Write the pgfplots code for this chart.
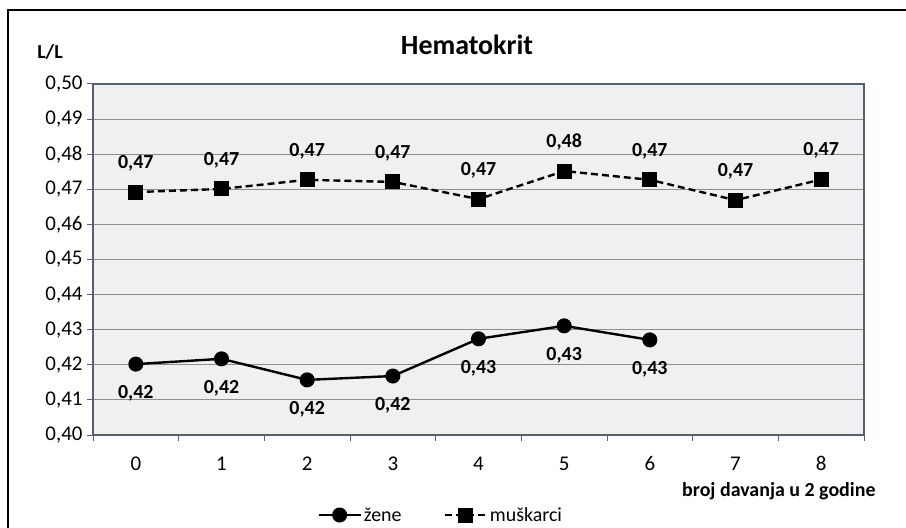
\documentclass[border=0pt]{standalone}
\usepackage{pgfplots}
\pgfplotsset{compat=1.18}
\usepackage{fontspec}
\setmainfont{Carlito}

\definecolor{axiscol}{HTML}{56606E}
\definecolor{gridcol}{HTML}{8E8E8E}
\definecolor{bgcol}{HTML}{F0F0F0}

\begin{document}
\begin{tikzpicture}
    \useasboundingbox (0bp,0bp) rectangle (906bp,528bp);
    % outer frame (right and bottom edges are cut off in the reference)
    \draw[line width=1.2bp] (8bp,0bp) -- (8bp,518bp) -- (906bp,518bp);

    \begin{axis}
        [
            at={(93bp,93bp)}, anchor=south west,
            scale only axis,
            width=771bp, height=351bp,
            xmin=-0.5, xmax=8.5,
            ymin=0.40, ymax=0.50,
            xtick={0,1,2,3,4,5,6,7,8},
            xticklabels={0,1,2,3,4,5,6,7,8},
            major x tick style={draw=none},
            minor xtick={-0.5,0.5,1.5,2.5,3.5,4.5,5.5,6.5,7.5,8.5},
            minor tick length=6bp,
            ytick={0.40,0.41,0.42,0.43,0.44,0.45,0.46,0.47,0.48,0.49,0.50},
            yticklabel={\pgfmathprintnumber[fixed,fixed zerofill,precision=2,use comma,assume math mode=true]{\tick}},
            major tick length=6bp,
            tick align=outside,
            tick style={axiscol, line width=1bp},
            xtick pos=bottom, ytick pos=left,
            ymajorgrids,
            grid style={gridcol, line width=0.9bp},
            axis line style={axiscol, line width=1.8bp},
            axis background/.style={fill=bgcol},
            tick label style={font=\fontsize{21}{24}\selectfont},
            yticklabel style={xshift=-1bp},
            xticklabel style={yshift=-12bp, text height=14bp, text depth=0bp},
            nodes near coords={\pgfmathprintnumber[fixed,fixed zerofill,precision=2,use comma,assume math mode=true]{\pgfplotspointmeta}},
            every node near coord/.append style={font=\bfseries\fontsize{20}{23}\selectfont, black},
            clip=false,
            legend columns=2,
            legend style={draw=none, fill=none, at={(0.451,-0.228)}, anchor=center,
                font=\fontsize{20}{23}\selectfont,
                /tikz/every even column/.append style={column sep=40bp}},
            legend image code/.code={
                \draw[mark repeat=2, mark phase=2, #1] plot coordinates {(0bp,0bp) (21bp,0bp) (42bp,0bp)};
            },
        ]

        \addplot[black, line width=2.4bp, mark=*, mark size=6.3bp, mark options={solid},
            every node near coord/.append style={anchor=center, yshift=-29bp}] coordinates {
            (0,0.4202)
            (1,0.4217)
            (2,0.4157)
            (3,0.4168)
            (4,0.4274)
            (5,0.4311)
            (6,0.4271)
        };
        \addlegendentry{žene}

        \addplot[black, line width=2.4bp, dash pattern=on 7bp off 4bp, mark=square*, mark size=6.3bp, mark options={solid},
            every node near coord/.append style={anchor=center, yshift=29bp}] coordinates {
            (0,0.4692)
            (1,0.4701)
            (2,0.4727)
            (3,0.4721)
            (4,0.4672)
            (5,0.4752)
            (6,0.4727)
            (7,0.4669)
            (8,0.4728)
        };
        \addlegendentry{muškarci}
    \end{axis}

    % title, axis titles
    \node[font=\bfseries\fontsize{28}{32}\selectfont] at (467bp,483bp) {Hematokrit};
    \node[font=\bfseries\fontsize{20}{23}\selectfont] at (50bp,476bp) {L/L};
    \node[font=\bfseries\fontsize{20}{23}\selectfont, anchor=east] at (879bp,37bp) {broj davanja u 2 godine};
\end{tikzpicture}
\end{document}
